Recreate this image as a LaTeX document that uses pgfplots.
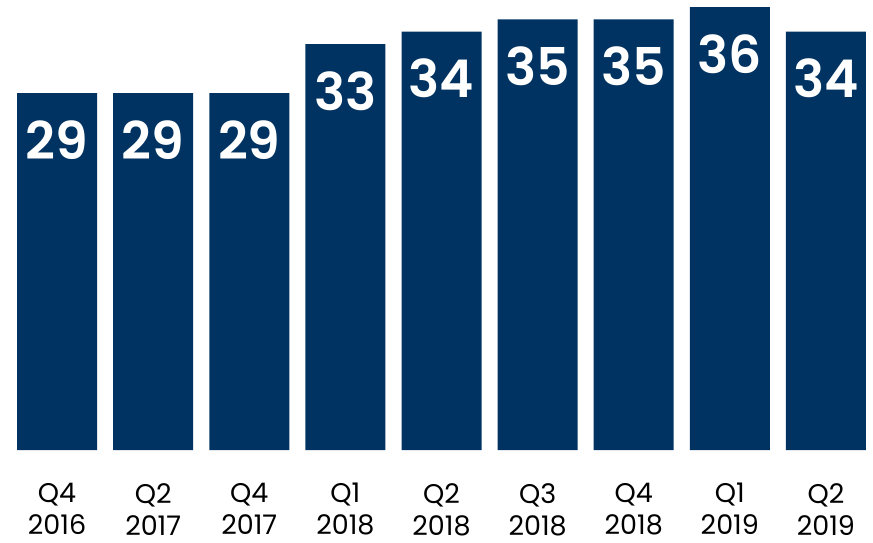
\documentclass[border=0pt]{standalone}
\usepackage{fontspec}
\setmainfont{Poppins}
\newfontfamily\numfont{Poppins}[UprightFont=* SemiBold]
\usepackage{pgfplots}
\pgfplotsset{compat=1.18}
\definecolor{navy}{HTML}{003361}
\begin{document}
\begin{tikzpicture}
\begin{axis}[
  scale only axis,
  width=436.5pt, height=225pt,
  xmin=-0.594, xmax=8.49,
  ymin=0, ymax=36.56,
  axis line style={draw=none},
  major tick length=0pt,
  ytick=\empty,
  xtick=data,
  xticklabels={{Q4\\2016},{Q2\\2017},{Q4\\2017},{Q1\\2018},{Q2\\2018},{Q3\\2018},{Q4\\2018},{Q1\\2019},{Q2\\2019}},
  xticklabel style={align=center, font=\fontsize{13.5pt}{16pt}\selectfont, anchor=north, yshift=-13pt},
  ybar, bar width=40pt,
  /pgf/number format/assume math mode=true,
  nodes near coords,
  nodes near coords style={font=\numfont\fontsize{26pt}{28pt}\selectfont, text=white, anchor=base, yshift=-33pt},
  clip=false,
]
\addplot[fill=navy, draw=none] coordinates {(0,29) (1,29) (2,29) (3,33) (4,34) (5,35) (6,35) (7,36) (8,34)};
\end{axis}
\end{tikzpicture}
\end{document}
